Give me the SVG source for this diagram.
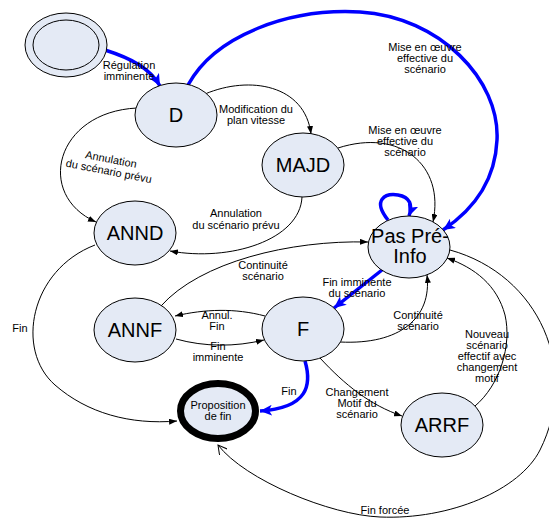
<svg xmlns="http://www.w3.org/2000/svg" width="549" height="518" viewBox="0 0 549 518">
<style>
.node{fill:#e4eaf5;stroke:#000;stroke-width:1}
.nl{font-family:"Liberation Sans",Arial,sans-serif;font-size:20px;text-anchor:middle;fill:#000}
.lb{font-family:"Liberation Sans",Arial,sans-serif;font-size:11px;text-anchor:middle;fill:#000}
.c{fill:none;stroke:#000;stroke-width:1}
.b{fill:none;stroke:#0000ff;stroke-width:3.5}
</style>
<defs>
<marker id="ah" markerUnits="userSpaceOnUse" markerWidth="8" markerHeight="6" refX="8" refY="3" orient="auto"><path d="M0,0 L8,3 L0,6 z" fill="#000"/></marker>
<marker id="ahb" markerUnits="userSpaceOnUse" markerWidth="13" markerHeight="11" refX="12" refY="5.5" orient="auto"><path d="M0,0 L12,5.5 L0,11 L3,5.5 z" fill="#0000ff"/></marker>
<marker id="aho" markerUnits="userSpaceOnUse" markerWidth="10" markerHeight="10" refX="9" refY="5" orient="auto"><path d="M0,0 L9,5 L0,10" fill="none" stroke="#000" stroke-width="1"/></marker>
</defs>
<rect width="549" height="518" fill="#fff"/>
<g id="connectors">
<path class="b" d="M105,50 C130,58 150,68 160,86" marker-end="url(#ahb)"/>
<path class="b" d="M188,85 C215,35 290,8 360,12 C440,17 500,80 497,140 C495,185 470,212 443,230" marker-end="url(#ahb)"/>
<path class="b" d="M388,220 C372,200 385,193 398,195 C410,197 413,205 409,216" marker-end="url(#ahb)"/>
<path class="b" d="M382,270 L334,308" marker-end="url(#ahb)"/>
<path class="b" d="M305,361 C312,385 308,408 260,411" marker-end="url(#ahb)"/>
<path class="c" d="M205,94 C250,75 305,85 311,134" marker-end="url(#ah)"/>
<path class="c" d="M137,108 C55,112 35,195 96,222" marker-end="url(#ah)"/>
<path class="c" d="M338,148 C400,128 445,165 433,222" marker-end="url(#ah)"/>
<path class="c" d="M302,197 C300,240 230,262 170,251" marker-end="url(#ah)"/>
<path class="c" d="M161,306 C200,262 290,240 368,242" marker-end="url(#ah)"/>
<path class="c" d="M265,316 C235,308 205,309 175,316" marker-end="url(#ah)"/>
<path class="c" d="M176,339 C205,347 235,347 264,340" marker-end="url(#ah)"/>
<path class="c" d="M340,342 C400,345 432,318 427,275" marker-end="url(#ah)"/>
<path class="c" d="M320,358 C345,385 370,405 402,416" marker-end="url(#ah)"/>
<path class="c" d="M475,406 C500,385 512,345 505,315 C497,285 475,268 447,258" marker-end="url(#ah)"/>
<path class="c" d="M95,245 C30,270 15,350 55,385 C87,413 130,425 177,421" marker-end="url(#ah)"/>
<path class="c" d="M450,250 C540,275 580,370 540,450 C520,490 450,520 380,517 C330,515 245,480 218,445" marker-end="url(#aho)"/>
</g>
<g id="labels">
<text class="lb" x="129" y="69">Régulation</text>
<text class="lb" x="129" y="80">imminente</text>
<text class="lb" x="256" y="113">Modification du</text>
<text class="lb" x="256" y="124">plan vitesse</text>
<text class="lb" transform="translate(110,165) rotate(11)"><tspan x="0" y="-2">Annulation</tspan><tspan x="0" y="10">du scénario prévu</tspan></text>
<text class="lb" x="425" y="51">Mise en œuvre</text>
<text class="lb" x="425" y="62">effective du</text>
<text class="lb" x="425" y="73">scénario</text>
<text class="lb" x="405" y="134">Mise en œuvre</text>
<text class="lb" x="405" y="145">effective du</text>
<text class="lb" x="405" y="156">scénario</text>
<text class="lb" x="236" y="217">Annulation</text>
<text class="lb" x="236" y="229">du scénario prévu</text>
<text class="lb" x="263" y="269">Continuité</text>
<text class="lb" x="263" y="280">scénario</text>
<text class="lb" x="357" y="286">Fin imminente</text>
<text class="lb" x="357" y="297">du scénario</text>
<text class="lb" x="217" y="319">Annul.</text>
<text class="lb" x="217" y="330">Fin</text>
<text class="lb" x="218" y="350">Fin</text>
<text class="lb" x="218" y="361">imminente</text>
<text class="lb" x="418" y="319">Continuité</text>
<text class="lb" x="418" y="330">scénario</text>
<text class="lb" x="487" y="338">Nouveau</text>
<text class="lb" x="487" y="349">scénario</text>
<text class="lb" x="487" y="360">effectif avec</text>
<text class="lb" x="487" y="371">changement</text>
<text class="lb" x="487" y="382">motif</text>
<text class="lb" x="357" y="396">Changement</text>
<text class="lb" x="357" y="407">Motif du</text>
<text class="lb" x="357" y="418">scénario</text>
<text class="lb" x="289" y="395">Fin</text>
<text class="lb" x="20" y="332">Fin</text>
<text class="lb" x="385" y="514">Fin forcée</text>
</g>
<g id="init">
<ellipse class="node" cx="66" cy="45" rx="41" ry="32"/>
<ellipse class="node" cx="66" cy="45" rx="33" ry="25"/>
</g>
<g id="D"><ellipse class="node" cx="176" cy="115" rx="41" ry="32"/><text class="nl" x="176" y="122">D</text></g>
<g id="MAJD"><ellipse class="node" cx="303" cy="165" rx="41" ry="32"/><text class="nl" x="303" y="172">MAJD</text></g>
<g id="ANND"><ellipse class="node" cx="135" cy="233" rx="41" ry="32"/><text class="nl" x="135" y="240">ANND</text></g>
<g id="PasPreInfo"><ellipse class="node" cx="409" cy="247" rx="41" ry="31"/><text class="nl" x="410" y="243">Pas Pré-</text><text class="nl" x="410" y="263">Info</text></g>
<g id="ANNF"><ellipse class="node" cx="135" cy="330" rx="41" ry="32"/><text class="nl" x="135" y="337">ANNF</text></g>
<g id="F"><ellipse class="node" cx="303" cy="329" rx="41" ry="32"/><text class="nl" x="303" y="336">F</text></g>
<g id="Proposition"><ellipse cx="218" cy="411" rx="37.5" ry="27.5" fill="#e4eaf5" stroke="#000" stroke-width="7"/><text class="lb" x="218" y="409">Proposition</text><text class="lb" x="218" y="420">de fin</text></g>
<g id="ARRF"><ellipse class="node" cx="442" cy="425" rx="41" ry="32"/><text class="nl" x="442" y="432">ARRF</text></g>
</svg>
